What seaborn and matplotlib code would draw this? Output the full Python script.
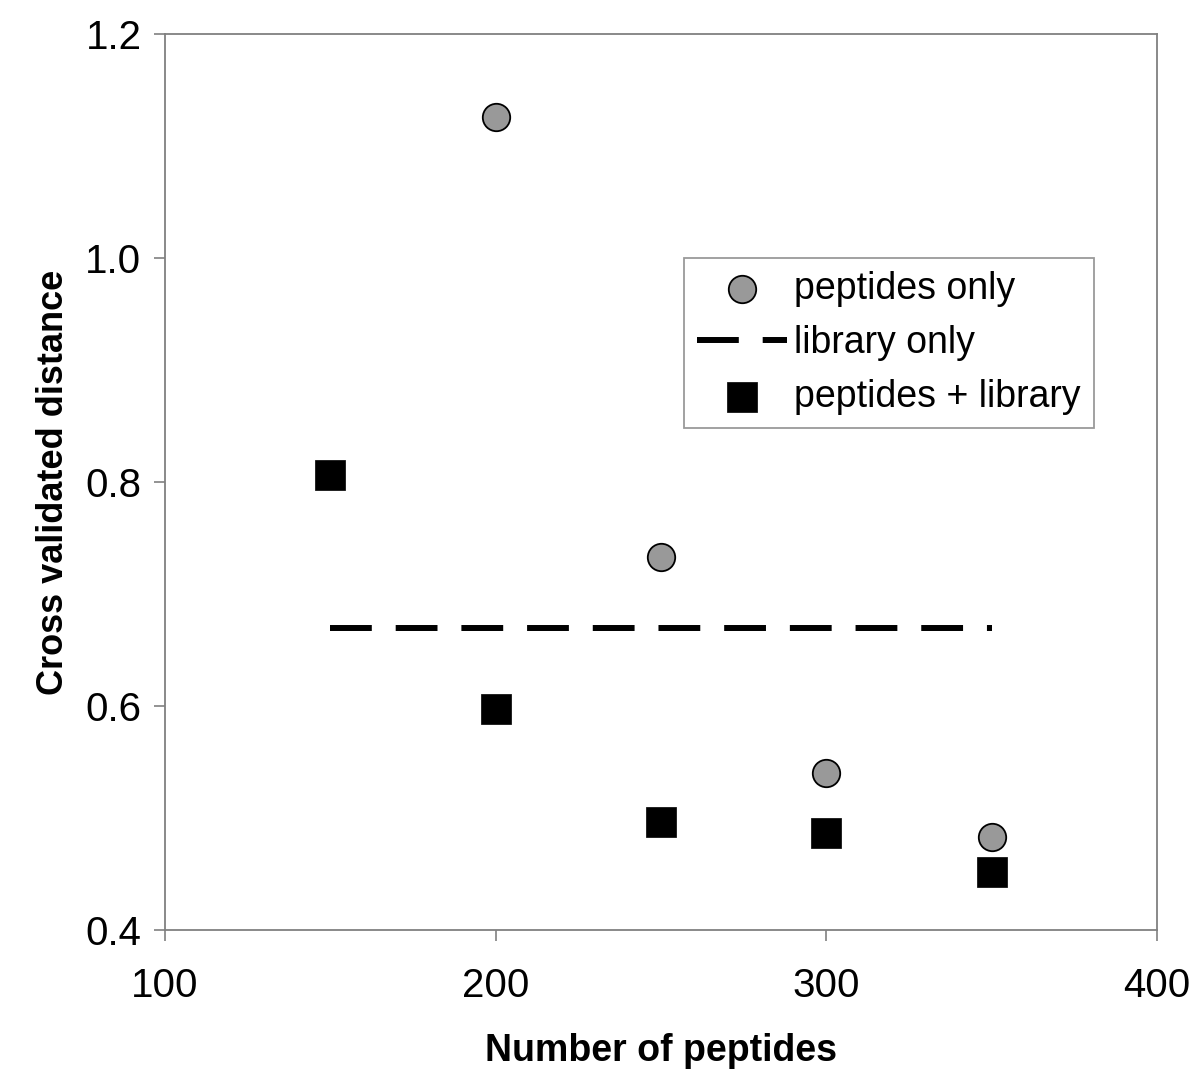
import numpy as np
import pandas as pd
import matplotlib
matplotlib.use("Agg")
import matplotlib.pyplot as plt
import seaborn as sns

# values
pep_x = [200, 250, 300, 350]
pep_only = [1.126, 0.733, 0.540, 0.483]

both_x = [150, 200, 250, 300, 350]
pep_lib = [0.806, 0.597, 0.496, 0.487, 0.452]

lib_x = [150, 350]
lib_only = [0.670, 0.670]

x_ticks = [100, 200, 300, 400]
y_ticks = [0.4, 0.6, 0.8, 1.0, 1.2]

sns.set_style("white")
plt.rcParams["font.family"] = ["Liberation Sans", "DejaVu Sans"]
plt.rcParams["text.color"] = "black"
plt.rcParams["axes.labelcolor"] = "black"

df_pep = pd.DataFrame({"n": pep_x, "dist": pep_only})
df_both = pd.DataFrame({"n": both_x, "dist": pep_lib})
df_lib = pd.DataFrame({"n": lib_x, "dist": lib_only})

fig = plt.figure(figsize=(12, 10.82), dpi=100)
ax = fig.add_axes([0.1375, 0.1405, 0.8267, 0.8281])

sns.scatterplot(data=df_pep, x="n", y="dist", ax=ax, marker="o", s=390,
                color="#999999", edgecolor="black", linewidth=1.3,
                label="peptides only", zorder=3)
sns.lineplot(data=df_lib, x="n", y="dist", ax=ax, color="black",
             linewidth=4.3, dashes=False, label="library only", zorder=2)
ax.lines[-1].set_dashes([7, 4])
sns.scatterplot(data=df_both, x="n", y="dist", ax=ax, marker="s", s=460,
                color="black", edgecolor="black", linewidth=0.5,
                label="peptides + library", zorder=3)

ax.set_xlim(100, 400)
ax.set_ylim(0.4, 1.2)
ax.set_xticks(x_ticks)
ax.set_yticks(y_ticks)
ax.set_yticklabels([f"{v:.1f}" for v in y_ticks])
ax.tick_params(axis="both", labelsize=29, length=8, width=1.2,
               color="#808080", labelcolor="black", direction="out",
               bottom=True, left=True, pad=9)
ax.tick_params(axis="x", pad=19)
for sp in ax.spines.values():
    sp.set_color("#808080")
    sp.set_linewidth(1.3)

ax.set_xlabel("Number of peptides", fontsize=27, fontweight="bold", labelpad=20)
ax.set_ylabel("Cross validated distance", fontsize=26, fontweight="bold", labelpad=10)

leg = ax.legend(loc="upper left", bbox_to_anchor=(0.523, 0.750), fontsize=27,
                frameon=True, fancybox=False, edgecolor="#808080",
                borderpad=0.35, handlelength=2.4, handletextpad=0.2,
                labelspacing=0.48, borderaxespad=0)
leg.get_frame().set_linewidth(1.3)

fig.savefig("out.png", dpi=100)
